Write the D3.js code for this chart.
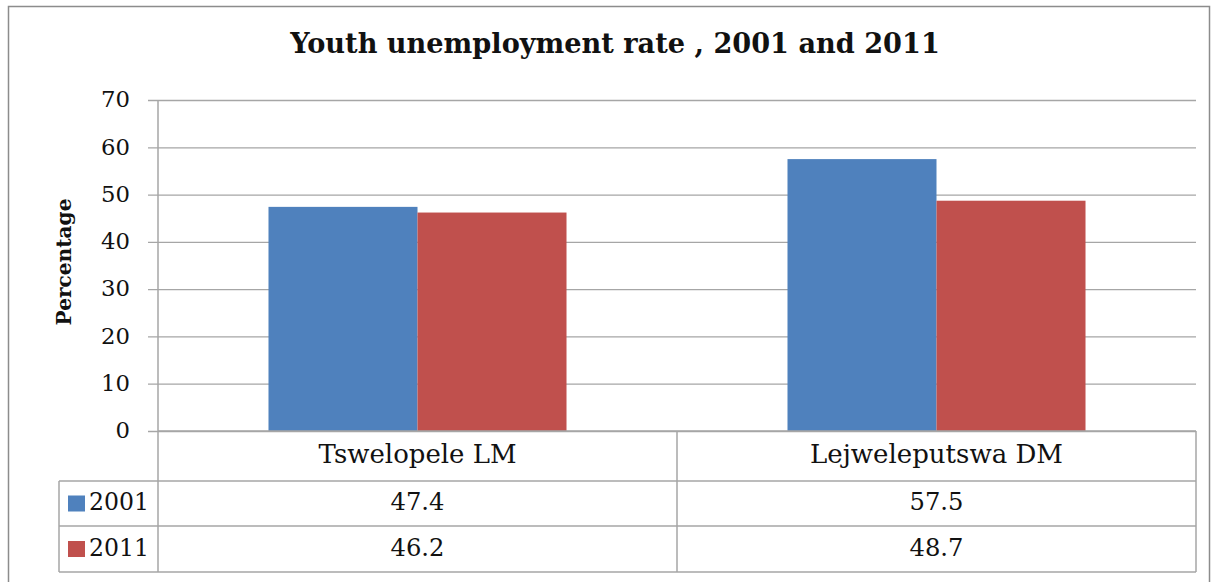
<!DOCTYPE html>
<html><head><meta charset="utf-8">
<script src="https://cdn.jsdelivr.net/npm/d3@7"></script>
<style>body{margin:0;background:#fff}</style>
</head><body>
<svg id="c" width="1217" height="582"></svg>
<script>
const categories = ["Tswelopele LM", "Lejweleputswa DM"];
const seriesNames = ["2001", "2011"];
const values2001 = [47.4, 57.5];
const values2011 = [46.2, 48.7];
const yTicks = [0, 10, 20, 30, 40, 50, 60, 70];
const colors = ["#4F81BD", "#C0504D"];

(function () {
const series = [values2001, values2011];
const svg = d3.select("#c");
const font = "DejaVu Serif, serif";
const pLeft = 158, pRight = 1196, pTop = 100, pBottom = 431;
const tableLeft = 59, rowBottoms = [481, 526, 572];

// fit a text element's font-size so its width is the target
function fit(sel, target) {
  sel.each(function () {
    const s = parseFloat(this.getAttribute("font-size"));
    const w = this.getComputedTextLength();
    if (w > 0) this.setAttribute("font-size", (s * target / w).toFixed(2));
  });
  return sel;
}

svg.append("rect").attr("x", 8.5).attr("y", 6.5).attr("width", 1201).attr("height", 600)
  .attr("fill", "#fff").attr("stroke", "#8c8c8c").attr("stroke-width", 1.5);

fit(svg.append("text").attr("x", 615).attr("y", 53).attr("text-anchor", "middle")
  .attr("font-family", font).attr("font-weight", "bold").attr("font-size", 24)
  .attr("fill", "#111").text("Youth unemployment rate , 2001 and 2011"), 650);

const y = d3.scaleLinear().domain([0, 70]).range([pBottom, pTop]);
const x0 = d3.scaleBand().domain(categories).range([pLeft, pRight]).paddingInner(0).paddingOuter(0);
const x1 = d3.scaleBand().domain(seriesNames).range([0, x0.bandwidth()]).paddingInner(0).paddingOuter(0.7415);

const yAxis = d3.axisLeft(y).tickValues(yTicks).tickSize(-(pRight - pLeft)).tickPadding(28).tickFormat(d3.format("d"));
const gy = svg.append("g").attr("transform", `translate(${pLeft},0)`).call(yAxis);
gy.select(".domain").remove();
gy.selectAll(".tick line").attr("stroke", "#a6a6a6").attr("stroke-width", 1.3).attr("x1", -10);
gy.selectAll(".tick text").attr("font-family", font).attr("font-size", 21).attr("fill", "#111")
  .attr("dy", "0.3em");
fit(gy.selectAll(".tick text").filter(d => d > 0), 29);
gy.selectAll(".tick text").filter(d => d === 0).attr("font-size", gy.select(".tick:last-of-type text").attr("font-size"));

categories.forEach((c, i) => {
  seriesNames.forEach((s, j) => {
    svg.append("rect").attr("x", x0(c) + x1(s)).attr("y", y(series[j][i]))
      .attr("width", x1.bandwidth()).attr("height", y(0) - y(series[j][i]))
      .attr("fill", colors[j]);
  });
});

svg.append("line").attr("x1", pLeft).attr("x2", pLeft).attr("y1", pTop).attr("y2", rowBottoms[2])
  .attr("stroke", "#a6a6a6").attr("stroke-width", 1.5);

fit(svg.append("text").attr("transform", "translate(71,262) rotate(-90)").attr("text-anchor", "middle")
  .attr("font-family", font).attr("font-weight", "bold").attr("font-size", 20).attr("fill", "#111")
  .text("Percentage"), 127);

const g = svg.append("g").attr("stroke", "#a6a6a6").attr("stroke-width", 1.5);
g.append("line").attr("x1", pLeft).attr("x2", pRight).attr("y1", pBottom).attr("y2", pBottom);
rowBottoms.forEach(yy => {
  g.append("line").attr("x1", tableLeft).attr("x2", pRight).attr("y1", yy).attr("y2", yy);
});
g.append("line").attr("x1", tableLeft).attr("x2", tableLeft).attr("y1", rowBottoms[0]).attr("y2", rowBottoms[2]);
g.append("line").attr("x1", pRight).attr("x2", pRight).attr("y1", pBottom).attr("y2", rowBottoms[2]);
g.append("line").attr("x1", x0(categories[1])).attr("x2", x0(categories[1])).attr("y1", pBottom).attr("y2", rowBottoms[2]);

const catWidths = [198, 253];
categories.forEach((c, i) => {
  fit(svg.append("text").attr("x", x0(c) + x0.bandwidth() / 2).attr("y", 463).attr("text-anchor", "middle")
    .attr("font-family", font).attr("font-size", 21).attr("fill", "#111").text(c), catWidths[i]);
});
const baselines = [510, 556];
seriesNames.forEach((s, j) => {
  const cy = (rowBottoms[j] + rowBottoms[j + 1]) / 2;
  svg.append("rect").attr("x", 68).attr("y", cy - 8).attr("width", 17).attr("height", 16).attr("fill", colors[j]);
  fit(svg.append("text").attr("x", 89).attr("y", baselines[j]).attr("font-family", font).attr("font-size", 23)
    .attr("fill", "#111").text(s), 60);
  categories.forEach((c, i) => {
    fit(svg.append("text").attr("x", x0(c) + x0.bandwidth() / 2).attr("y", baselines[j]).attr("text-anchor", "middle")
      .attr("font-family", font).attr("font-size", 21).attr("fill", "#111").text(series[j][i]), 54);
  });
});
})();
</script>
</body></html>
